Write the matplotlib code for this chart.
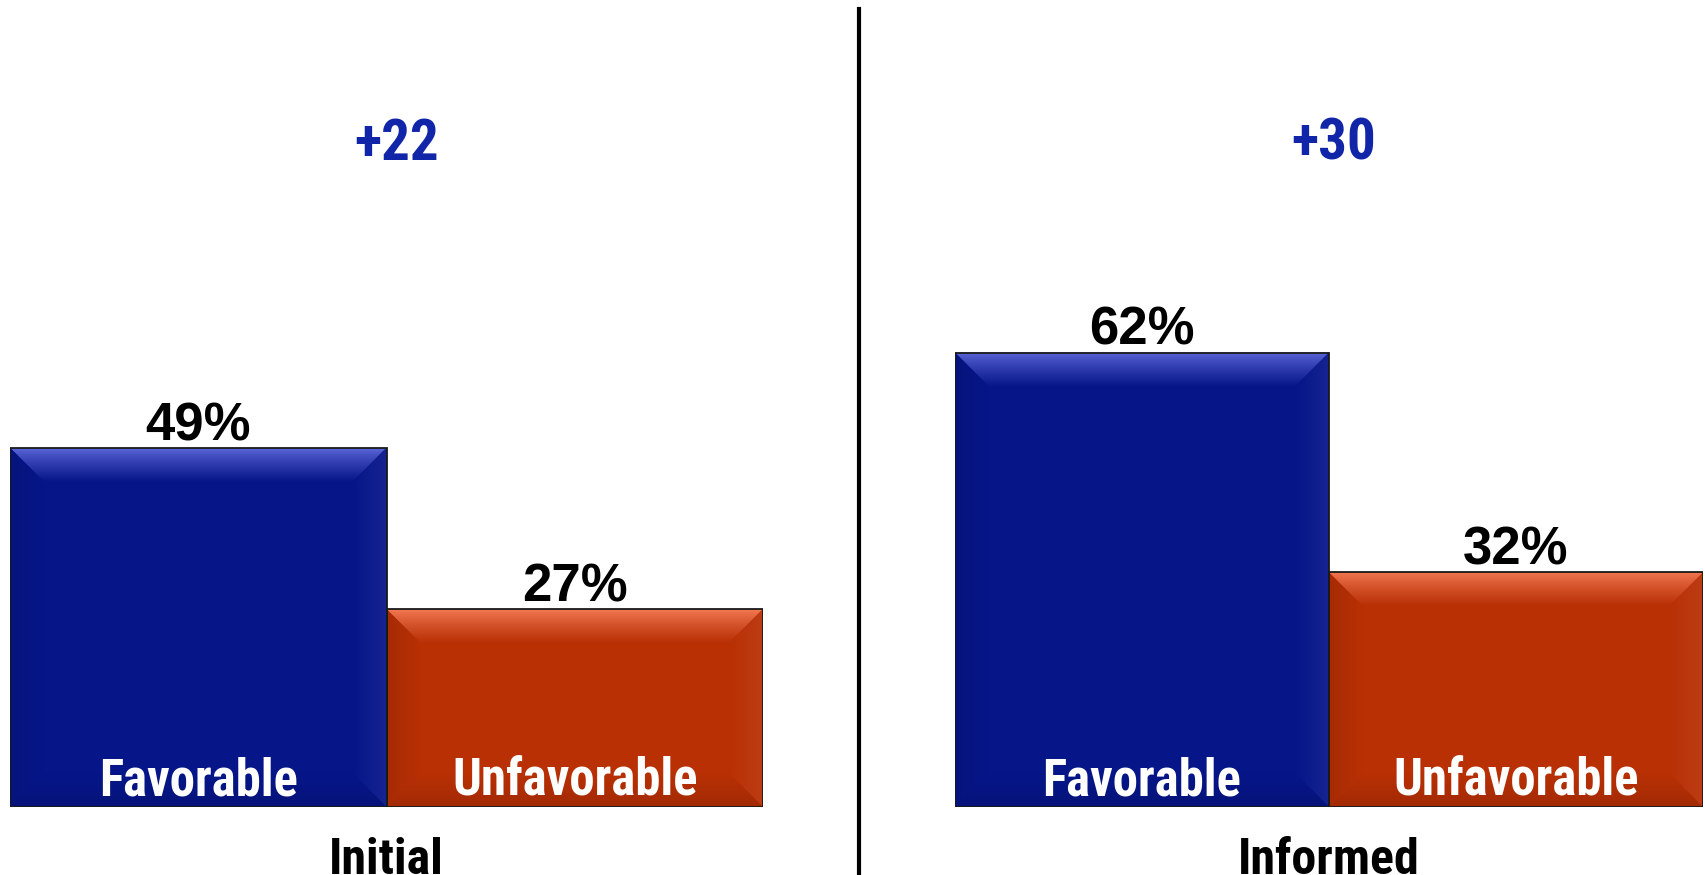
import numpy as np
import matplotlib
matplotlib.use("Agg")
import matplotlib.pyplot as plt
from matplotlib.patches import Polygon, Rectangle
from matplotlib.colors import to_rgb
from matplotlib.lines import Line2D

# ---- data ----
panels = ["Initial", "Informed"]
categories = ["Favorable", "Unfavorable"]
initial_values = [49, 27]
informed_values = [62, 32]
net_labels = ["+22", "+30"]

# ---- styles ----
W, H, DPI = 1705, 875, 100
BLUE = "#061689"
BLUE_HI = "#5E68DA"
ORANGE = "#B93005"
ORANGE_HI = "#F57C57"
NET_COLOR = "#1025A8"
NARROW = ["Roboto Condensed", "Liberation Sans", "DejaVu Sans"]
REG = ["Liberation Sans", "DejaVu Sans"]

fig = plt.figure(figsize=(W / DPI, H / DPI), dpi=DPI)
fig.patch.set_facecolor("white")


def mix(c1, c2, t):
    a = np.array(to_rgb(c1)); b = np.array(to_rgb(c2))
    return a * (1 - t) + b * t


def grad_image(ax, c_from, c_to, extent, clip, vertical=True, n=64, power=1.0):
    t = np.linspace(0, 1, n) ** power
    cols = np.array([mix(c_from, c_to, v) for v in t])
    img = cols[:, None, :] if vertical else cols[None, :, :]
    im = ax.imshow(img, extent=extent, aspect="auto", interpolation="bilinear",
                   zorder=2.5, origin="upper")
    poly = Polygon(clip, closed=True, transform=ax.transData)
    im.set_clip_path(poly)
    return im


def bevel(ax, rect, base, hi, depth_px=34):
    x, y = rect.get_x(), rect.get_y()
    w, h = rect.get_width(), rect.get_height()
    bb = ax.get_window_extent()
    x0, x1 = ax.get_xlim(); y0, y1 = ax.get_ylim()
    dx = depth_px * (x1 - x0) / bb.width
    dy = depth_px * (y1 - y0) / bb.height
    xr, yt = x + w, y + h
    top = [(x, yt), (xr, yt), (xr - dx, yt - dy), (x + dx, yt - dy)]
    grad_image(ax, hi, base, [x, xr, yt - dy, yt], top, vertical=True, power=0.8)
    left = [(x, y), (x, yt), (x + dx, yt - dy), (x + dx, y + dy)]
    grad_image(ax, mix(base, "black", 0.10), base, [x, x + dx, y, yt], left,
               vertical=False)
    right = [(xr, y), (xr, yt), (xr - dx, yt - dy), (xr - dx, y + dy)]
    grad_image(ax, base, mix(base, "white", 0.06), [xr - dx, xr, y, yt], right,
               vertical=False)
    bot = [(x, y), (xr, y), (xr - dx, y + dy), (x + dx, y + dy)]
    grad_image(ax, base, mix(base, "black", 0.12), [x, xr, y, y + dy], bot,
               vertical=True)
    ax.add_patch(Rectangle((x, y), w, h, fill=False, edgecolor="#1a1a1a",
                           linewidth=1.3, zorder=4))


axes_px = [(10, 763), (955, 1703)]
bottom_px, top_px = 807, 74
all_values = [initial_values, informed_values]
net_x_px = [397, 1334]

for i, (panel, vals) in enumerate(zip(panels, all_values)):
    l, r = axes_px[i]
    ax = fig.add_axes([l / W, (H - bottom_px) / H, (r - l) / W,
                       (bottom_px - top_px) / H])
    ax.axis("off")
    bars = ax.bar(range(len(categories)), vals, width=1.0,
                  color=[BLUE, ORANGE], edgecolor="none", zorder=2)
    ax.set_xlim(-0.5, 1.5)
    ax.set_ylim(0, 100)
    for rect, base, hi in zip(bars, [BLUE, ORANGE], [BLUE_HI, ORANGE_HI]):
        bevel(ax, rect, base, hi)
    ax.set_xlim(-0.5, 1.5)
    ax.set_ylim(0, 100)
    for j, (cat, v) in enumerate(zip(categories, vals)):
        ax.annotate(f"{v}%", xy=(j, v), xytext=(0, 5.5), textcoords="offset points",
                    ha="center", va="baseline", fontsize=38, fontweight="bold",
                    family=REG, color="black", zorder=6)
        ax.annotate(cat, xy=(j, 0), xytext=(0, 8.5), textcoords="offset points",
                    ha="center", va="baseline", fontsize=36.5, fontweight="bold",
                    family=NARROW, color="white", zorder=6)
    fig.text((l + r) / 2 / W, 1 / H, panel, ha="center", va="baseline",
             fontsize=36, fontweight="bold", family=NARROW, color="black")
    fig.text(net_x_px[i] / W, (H - 160) / H, net_labels[i], ha="center",
             va="baseline", fontsize=41, fontweight="bold", family=NARROW,
             color=NET_COLOR)

fig.add_artist(Line2D([859 / W, 859 / W], [0, (H - 9) / H], color="black",
                      linewidth=3.0, transform=fig.transFigure))

fig.savefig("out.png", dpi=DPI, facecolor="white")
